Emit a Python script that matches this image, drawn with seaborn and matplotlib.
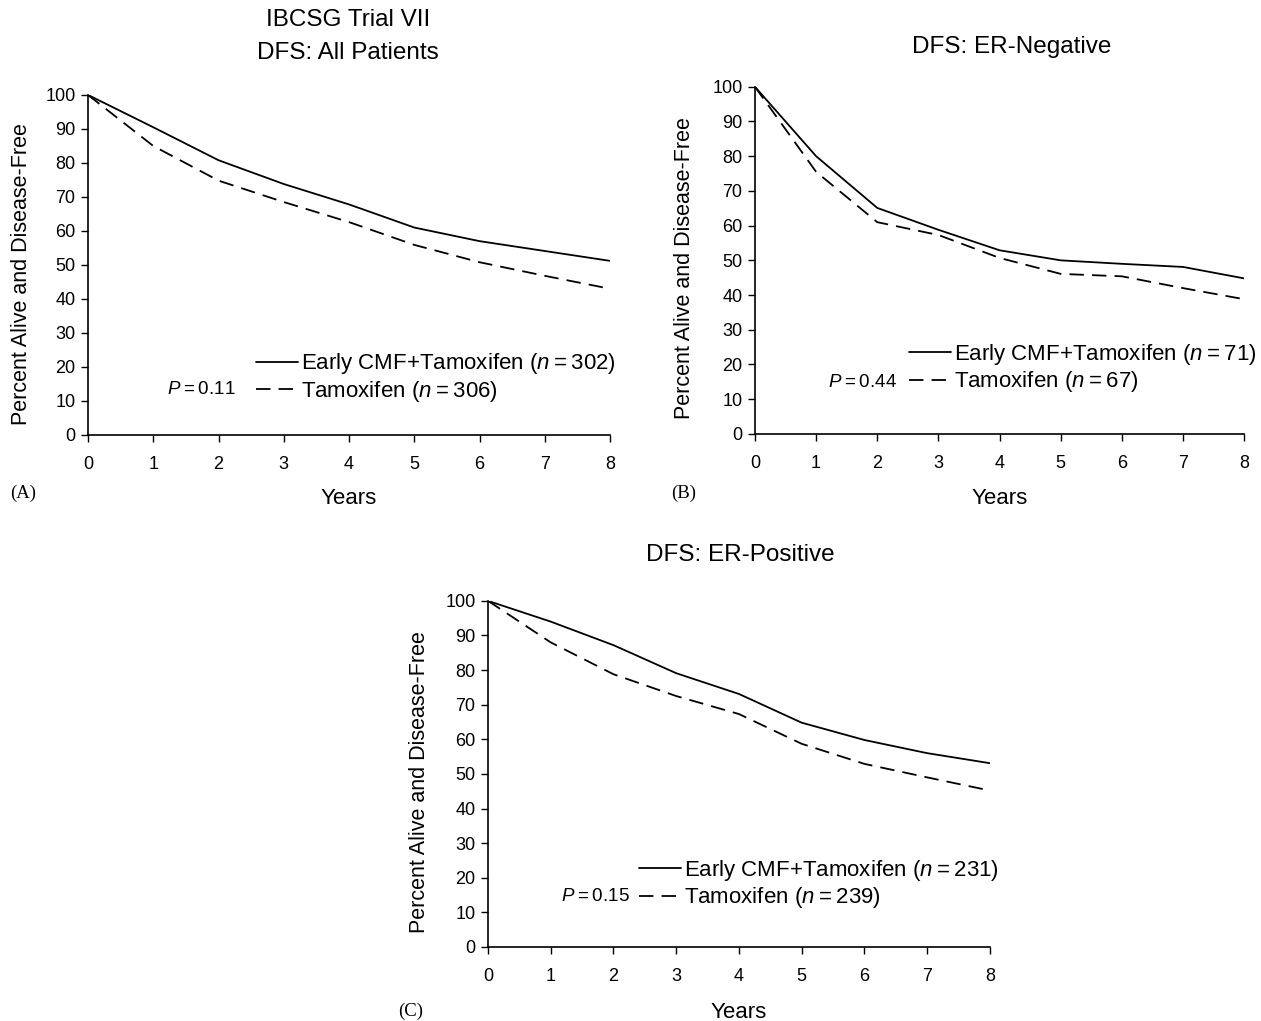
import matplotlib
matplotlib.use('Agg')
import matplotlib.pyplot as plt
import seaborn as sns
import pandas as pd

sns.set_style('white')
plt.rcParams['font.family'] = ['Liberation Sans', 'DejaVu Sans']
plt.rcParams['mathtext.fontset'] = 'custom'
plt.rcParams['mathtext.rm'] = 'Liberation Sans'
plt.rcParams['mathtext.it'] = 'Liberation Sans:italic'
plt.rcParams['text.color'] = 'black'
plt.rcParams['axes.labelcolor'] = 'black'
plt.rcParams['xtick.color'] = 'black'
plt.rcParams['ytick.color'] = 'black'

# Years of follow-up
years = [0, 1, 2, 3, 4, 5, 6, 7, 8]

# Panel A: all patients
all_cmf = [100, 90.5, 80.8, 73.8, 67.8, 61, 57, 54.1, 51.2]
all_tam = [100, 85, 74.8, 68.5, 62.6, 55.9, 50.8, 46.8, 43]
# Panel B: ER-negative
neg_cmf = [100, 80, 65.1, 58.8, 52.9, 50, 49, 48.1, 44.8]
neg_tam = [100, 75.5, 61, 57.3, 50.7, 46.1, 45.4, 42, 38.8]
# Panel C: ER-positive
pos_cmf = [100, 94, 87.2, 79.1, 73.1, 64.8, 59.8, 56, 53.1]
pos_tam = [100, 88, 78.8, 72.5, 67.3, 58.7, 52.9, 49, 45.2]

arms = ['Early CMF+Tamoxifen', 'Tamoxifen']
TS = '\u2009'  # thin space
panels = [
    dict(cmf=all_cmf, tam=all_tam, n=(302, 306), p='0.11',
         rect=[0.0698, 0.574, 0.414, 0.333],
         leg=(0.322, 0.168), ptxt=(0.217, 0.135), tag='(A)', tagxy=(0.018, 0.517),
         ylab=(-0.127, 0.474), xlab=(0.5, -0.188)),
    dict(cmf=neg_cmf, tam=neg_tam, n=(71, 67), p='0.44',
         rect=[0.5987, 0.575, 0.388, 0.340],
         leg=(0.315, 0.19), ptxt=(0.22, 0.147), tag='(B)', tagxy=(0.542, 0.517),
         ylab=(-0.145, 0.478), xlab=(0.5, -0.187)),
    dict(cmf=pos_cmf, tam=pos_tam, n=(231, 239), p='0.15',
         rect=[0.387, 0.0725, 0.398, 0.339],
         leg=(0.301, 0.182), ptxt=(0.213, 0.147), tag='(C)', tagxy=(0.326, 0.009),
         ylab=(-0.137, 0.477), xlab=(0.5, -0.188)),
]

fig = plt.figure(figsize=(12.61, 10.21), dpi=100)

for pn in panels:
    df = pd.DataFrame({
        'Years': years * 2,
        'Pct': pn['cmf'] + pn['tam'],
        'Arm': [arms[0]] * len(years) + [arms[1]] * len(years),
    })
    ax = fig.add_axes(pn['rect'])
    sns.lineplot(data=df, x='Years', y='Pct', style='Arm', color='black',
                 dashes={arms[0]: '', arms[1]: (8, 4.5)}, linewidth=1.3,
                 legend=False, ax=ax)
    ax.set_xlim(0, 8)
    ax.set_ylim(0, 100)
    ax.set_xticks(range(0, 9))
    ax.set_yticks(range(0, 101, 10))
    ax.spines['top'].set_visible(False)
    ax.spines['right'].set_visible(False)
    for s in ['left', 'bottom']:
        ax.spines[s].set_color('black')
        ax.spines[s].set_linewidth(1.2)
    ax.tick_params(axis='both', direction='out', length=5, width=1, colors='black',
                   labelsize=13, bottom=True, left=True)
    ax.tick_params(axis='x', pad=10)
    ax.tick_params(axis='y', pad=4)
    ax.set_xlabel('Years', fontsize=16)
    ax.set_ylabel('Percent Alive and Disease-Free', fontsize=15.5)
    ax.xaxis.set_label_coords(*pn['xlab'])
    ax.yaxis.set_label_coords(*pn['ylab'])
    ax.xaxis.label.set_va('center')
    ax.yaxis.label.set_va('center')

    labels = [f'{arms[0]} ($n${TS}={TS}{pn["n"][0]})',
              f'{arms[1]} ($n${TS}={TS}{pn["n"][1]})']
    ax.legend(handles=ax.lines[:2], labels=labels, loc='center left',
              bbox_to_anchor=pn['leg'], frameon=False, fontsize=16,
              handlelength=1.9, handletextpad=0.1, labelspacing=0.12,
              borderpad=0, borderaxespad=0)
    ax.text(pn['ptxt'][0], pn['ptxt'][1], f'$P${TS}={TS}{pn["p"]}', transform=ax.transAxes,
            ha='center', va='center', fontsize=13.5)
    fig.text(pn['tagxy'][0], pn['tagxy'][1], pn['tag'], fontsize=13.5,
             family='Liberation Serif', ha='center', va='center')

fig.text(0.276, 0.980, 'IBCSG Trial VII', fontsize=17.5, ha='center', va='center')
fig.text(0.276, 0.948, 'DFS: All Patients', fontsize=17.5, ha='center', va='center')
fig.text(0.8025, 0.954, 'DFS: ER-Negative', fontsize=17.5, ha='center', va='center')
fig.text(0.587, 0.456, 'DFS: ER-Positive', fontsize=17.5, ha='center', va='center')

fig.savefig('out.png', dpi=100, facecolor='white')
